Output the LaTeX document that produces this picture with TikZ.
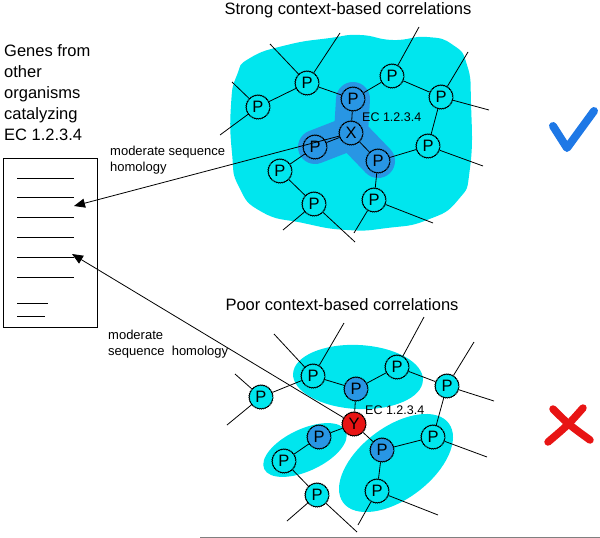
\documentclass[tikz,border=0pt]{standalone}
\usepackage{fontspec}
\setmainfont{Liberation Sans}
\usetikzlibrary{arrows.meta,backgrounds,decorations.pathmorphing}
\definecolor{blobcyan}{RGB}{0,230,238}
\definecolor{darkblob}{RGB}{40,150,228}
\definecolor{redY}{RGB}{232,20,20}
\definecolor{checkblue}{RGB}{30,120,230}
\tikzset{
  pn/.style={circle,draw=black,line width=0.8pt,minimum size=24pt,inner sep=0pt,
    font=\fontsize{16.5}{16}\selectfont,fill=blobcyan,
    decorate,decoration={bumps,segment length=3.8pt,amplitude=0.6pt}},
  pdark/.style={pn,fill=darkblob},
  pred/.style={pn,fill=redY},
  link/.style={line width=0.8pt,black},
  homarrow/.style={line width=0.8pt,-{Triangle[length=11pt,width=9pt]}},
  lbl/.style={font=\fontsize{13}{16}\selectfont,inner sep=0pt,align=left},
  title/.style={font=\fontsize{16.5}{18}\selectfont,inner sep=0pt},
  ec/.style={font=\fontsize{12.5}{12}\selectfont,inner sep=0pt,anchor=west}
}
\begin{document}
\begin{tikzpicture}[x=1pt,y=-1pt]
\useasboundingbox (0,0) rectangle (600,538);

% titles
\node[title] (ttop) at (348,10) {Strong context-based correlations};
\node[title] (tbot) at (342,305) {Poor context-based correlations};

% left text and list
\node[font=\fontsize{16.5}{21}\selectfont,align=left,anchor=north west,inner sep=0pt] (genes) at (4,44)
  {Genes from\\other\\organisms\\catalyzing\\EC 1.2.3.4};
\node[draw=black,line width=0.8pt,minimum width=94pt,minimum height=169pt,anchor=north west,inner sep=0pt] (list) at (3,158) {};
\foreach \yy in {178,197,217,237,257,277}{
  \draw[line width=0.8pt] (17,\yy) -- (74,\yy);
}
\draw[line width=0.8pt] (17,303) -- (48,303);
\draw[line width=0.8pt] (17,316) -- (45,316);

% ---------------- top cluster ----------------
\node[pn] (t1) at (258,107) {P};
\node[pn] (t2) at (307,83) {P};
\node[pdark] (t3) at (353,99) {P};
\node[pn] (t4) at (392,76) {P};
\node[pn] (t5) at (441,97) {P};
\node[pdark] (tx) at (351,133) {X};
\node[pdark] (t6) at (315,147) {P};
\node[pn] (t7) at (280,171) {P};
\node[pn] (t8) at (314,204) {P};
\node[pdark] (t9) at (378,161) {P};
\node[pn] (t10) at (428,146) {P};
\node[pn] (t11) at (374,200) {P};
\node[ec] (ectop) at (362,117) {EC 1.2.3.4};

\coordinate (t1a) at (220,135); \coordinate (t1b) at (232,82);
\coordinate (t2a) at (270,44);  \coordinate (t2b) at (340,33);
\coordinate (t4a) at (419,27);
\coordinate (t5a) at (468,52);  \coordinate (t5b) at (489,110);
\coordinate (t10a) at (483,166);
\coordinate (t8a) at (283,230); \coordinate (t8b) at (355,242);
\coordinate (t11a) at (354,233); \coordinate (t11b) at (433,223);

\begin{pgfonlayer}{background}
\fill[blobcyan] plot[smooth cycle,tension=0.9] coordinates {
 (250,58) (287,45) (330,38) (360,35) (393,40) (427,37) (453,45) (467,65)
 (471,103) (470,168) (458,200) (427,220) (387,228) (347,230) (303,223)
 (262,212) (239,187) (232,153) (231,105) (237,75)};
\draw[darkblob,line width=34pt,line cap=round,line join=round]
  (t3.center) -- (tx.center) -- (t6.center) (tx.center) -- (t9.center);
\end{pgfonlayer}

\draw[link] (t1) -- (t2) (t2) -- (t3) (t3) -- (t4) (t4) -- (t5) (t3) -- (tx)
  (t5) -- (t10) (t10) -- (t9) (tx) -- (t6) (tx) -- (t9) (t6) -- (t7) (t7) -- (t8)
  (t9) -- (t11);
\draw[link] (t1) -- (t1a) (t1) -- (t1b) (t2) -- (t2a) (t2) -- (t2b) (t4) -- (t4a)
  (t5) -- (t5a) (t5) -- (t5b) (t10) -- (t10a) (t8) -- (t8a) (t8) -- (t8b)
  (t11) -- (t11a) (t11) -- (t11b);

% ---------------- bottom cluster ----------------
\node[pn] (b1) at (313,376) {P};
\node[pn] (b2) at (261,397) {P};
\node[pdark] (b3) at (356,389) {P};
\node[pn] (b4) at (397,367) {P};
\node[pn] (b5) at (447,386) {P};
\node[pred] (by) at (354,424) {Y};
\node[pdark] (b6) at (319,437) {P};
\node[pn] (b7) at (284,461) {P};
\node[pn] (b8) at (317,495) {P};
\node[pdark] (b9) at (382,450) {P};
\node[pn] (b10) at (433,437) {P};
\node[pn] (b11) at (377,491) {P};
\node[ec] (ecbot) at (365,410) {EC 1.2.3.4};

\coordinate (b1a) at (274,334); \coordinate (b1b) at (344,323);
\coordinate (b2a) at (235,374); \coordinate (b2b) at (227,425);
\coordinate (b4a) at (424,317);
\coordinate (b5a) at (474,342); \coordinate (b5b) at (494,401);
\coordinate (b10a) at (487,457);
\coordinate (b8a) at (287,521); \coordinate (b8b) at (357,532);
\coordinate (b11a) at (358,525); \coordinate (b11b) at (438,515);

\begin{pgfonlayer}{background}
\fill[blobcyan,rotate around={-3:(358,377)}] (358,377) ellipse [x radius=65pt,y radius=32pt];
\fill[blobcyan,rotate around={25:(305,450)}] (305,450) ellipse [x radius=45pt,y radius=21pt];
\fill[blobcyan,rotate around={37:(396,463)}] (396,463) ellipse [x radius=66pt,y radius=36pt];
\end{pgfonlayer}

\draw[link] (b1) -- (b2) (b1) -- (b3) (b3) -- (b4) (b4) -- (b5) (b3) -- (by)
  (b5) -- (b10) (b10) -- (b9) (by) -- (b6) (by) -- (b9) (b6) -- (b7) (b7) -- (b8)
  (b9) -- (b11);
\draw[link] (b1) -- (b1a) (b1) -- (b1b) (b2) -- (b2a) (b2) -- (b2b) (b4) -- (b4a)
  (b5) -- (b5a) (b5) -- (b5b) (b10) -- (b10a) (b8) -- (b8a) (b8) -- (b8b)
  (b11) -- (b11a) (b11) -- (b11b);

% ---------------- homology arrows ----------------
\coordinate (tip1) at (74,206);
\coordinate (tip2) at (72,254);
\draw[homarrow] (tx) -- (tip1);
\draw[homarrow] (by) -- (tip2);
\node[lbl,anchor=north west] (lab1) at (110,146) {moderate sequence\\homology};
\node[lbl,anchor=north west] (lab2) at (108,330) {moderate\\sequence\ \ homology};

% check and cross
\draw[checkblue,line width=8pt,line cap=round,line join=round]
  (553,126) -- (567,148) -- (594,111);
\draw[redY,line width=7.5pt,line cap=round] (553,409) .. controls (568,424) .. (590,440);
\draw[redY,line width=7.5pt,line cap=round] (583,408) .. controls (568,425) .. (548,442);

% bottom rule
\draw[gray,line width=1pt] (200,537) -- (600,537);
\end{tikzpicture}
\end{document}
